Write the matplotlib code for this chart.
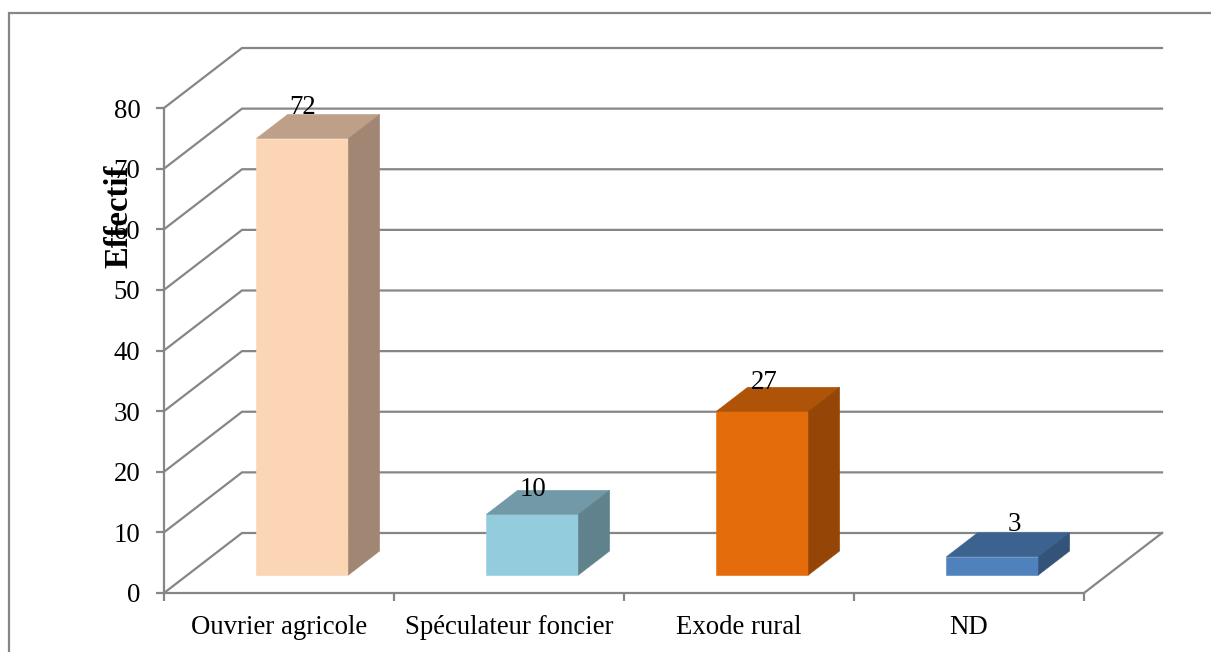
#!/usr/bin/env python3
"""Pseudo-3D column chart of effectifs per category, drawn with flat polygons."""
import matplotlib
matplotlib.use("Agg")
import matplotlib.pyplot as plt
from matplotlib.lines import Line2D

categories = ["Ouvrier agricole", "Spéculateur foncier", "Exode rural", "ND"]
values = [72, 10, 27, 3]
y_ticks = [0, 10, 20, 30, 40, 50, 60, 70, 80]
y_label = "Effectif"

front_colors = ["#FCD5B5", "#93CDDD", "#E46C0A", "#4F81BD"]
top_colors = ["#BEA088", "#7199A8", "#AE5308", "#3C628F"]
side_colors = ["#A18773", "#5F828C", "#954606", "#335379"]
label_nudge = [(0, 0), (1, -6), (2, -2), (22, 2)]   # px, from the bar's back top edge

W, H = 1211, 652
X0, X1, Y0, Y1 = 164, 1084, 593, 108   # front plane of the plot, in px
GRAY = "#868686"
LW = 1.6
FONT_SIZE = 19.3

plt.rcParams["font.family"] = ["Liberation Serif", "DejaVu Serif"]
fig = plt.figure(figsize=(W / 100, H / 100), dpi=100)
ax = fig.add_axes([X0 / W, 1 - Y0 / H, (X1 - X0) / W, (Y0 - Y1) / H])
ax.set_xlim(0, len(categories))
ax.set_ylim(0, 80)
ax.patch.set_visible(False)

# one unit of depth expressed in data units (78 px right, 60 px up)
DX = 78 / ((X1 - X0) / len(categories))
DY = 60 / ((Y0 - Y1) / 80)


def proj(x, y, d):
    return x + d * DX, y + d * DY


# walls: diagonal on the left, gridline along the back
for v in y_ticks:
    xs, ys = zip(proj(0, v, 0), proj(0, v, 1), proj(len(categories), v, 1))
    ax.plot(xs, ys, color=GRAY, lw=LW, clip_on=False, zorder=1, solid_joinstyle="miter")
xs, ys = zip(proj(len(categories), 0, 1), proj(len(categories), 0, 0))
ax.plot(xs, ys, color=GRAY, lw=LW, clip_on=False, zorder=1)

# columns sit 0.3 depth in and are 0.4 deep, width 0.4 of a category
BAR_W, D0, D1 = 0.4, 0.3, 0.7
for i, v in enumerate(values):
    l, r = i + 0.5 - BAR_W / 2, i + 0.5 + BAR_W / 2
    front = [proj(l, 0, D0), proj(r, 0, D0), proj(r, v, D0), proj(l, v, D0)]
    top = [proj(l, v, D0), proj(r, v, D0), proj(r, v, D1), proj(l, v, D1)]
    side = [proj(r, 0, D0), proj(r, 0, D1), proj(r, v, D1), proj(r, v, D0)]
    for poly, col in [(front, front_colors[i]), (top, top_colors[i]), (side, side_colors[i])]:
        ax.fill(*zip(*poly), color=col, lw=0.4, clip_on=False, zorder=3)
    anchor = (proj(i + 0.5, v, D0)[0], proj(i + 0.5, v, D1)[1])
    ax.annotate(str(v), xy=anchor, xytext=label_nudge[i],
                textcoords="offset pixels", ha="center", va="baseline",
                fontsize=FONT_SIZE, color="black", zorder=4, annotation_clip=False)

for side in ("top", "right"):
    ax.spines[side].set_visible(False)
for side in ("left", "bottom"):
    ax.spines[side].set_color(GRAY)
    ax.spines[side].set_linewidth(LW)
    ax.spines[side].set_zorder(2)

ax.set_yticks(y_ticks)
ax.tick_params(axis="y", color=GRAY, width=LW, length=6, pad=11, labelsize=FONT_SIZE)
ax.set_xticks(range(len(categories) + 1))
ax.set_xticklabels([])
ax.tick_params(axis="x", which="major", color=GRAY, width=LW, length=6)
ax.set_xticks([i + 0.5 for i in range(len(categories))], minor=True)
ax.set_xticklabels(categories, minor=True)
ax.tick_params(axis="x", which="minor", length=0, pad=16, labelsize=FONT_SIZE)

ax.set_ylabel(y_label, fontsize=23.5, fontweight="bold")
ax.yaxis.set_label_coords((135 - X0) / (X1 - X0), (Y0 - 216) / (Y0 - Y1))

# outer chart frame, running off the right and bottom edges
frame = Line2D([9 / W, 9 / W, 1], [0, 1 - 12.5 / H, 1 - 12.5 / H], color=GRAY, lw=LW,
               transform=fig.transFigure, solid_joinstyle="miter")
fig.add_artist(frame)

fig.savefig("out.png", dpi=100)
